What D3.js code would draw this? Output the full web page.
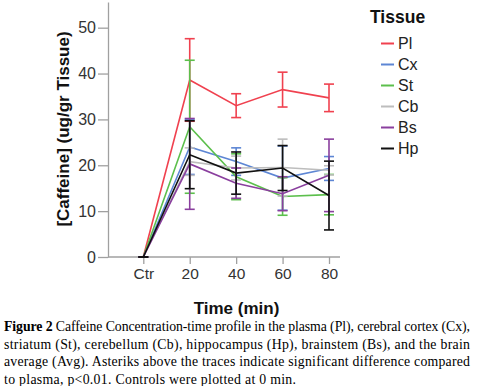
<!DOCTYPE html>
<html>
<head>
<meta charset="utf-8">
<script src="https://cdn.jsdelivr.net/npm/d3@7"></script>
<style>
  body { margin: 0; background: #fff; }
  svg { display: block; }
</style>
</head>
<body>
<div id="chart"></div>
<script>
const times = ["Ctr", "20", "40", "60", "80"];
const tissues = ["Pl", "Cx", "St", "Cb", "Bs", "Hp"];
const colors = ["#f0414f", "#5d86d4", "#5cbf4c", "#bdbdbd", "#8a3f9e", "#111111"];

// mean concentration per time point
const plMean = [0, 38.6, 33.0, 36.5, 34.7];
const cxMean = [0, 24.0, 20.8, 17.2, 19.3];
const stMean = [0, 28.4, 17.5, 13.2, 13.6];
const cbMean = [0, 20.8, 19.4, 19.5, 18.9];
const bsMean = [0, 20.3, 16.1, 13.8, 17.8];
const hpMean = [0, 22.3, 18.3, 19.4, 13.4];

// error bar half-widths
const plErr = [0, 9.0, 2.6, 3.8, 3.0];
const cxErr = [0, 6.0, 3.0, 7.0, 2.6];
const stErr = [0, 14.5, 5.0, 4.1, 4.4];
const cbErr = [0, 3.0, 2.6, 6.2, 1.0];
const bsErr = [0, 9.9, 3.3, 3.7, 7.9];
const hpErr = [0, 7.4, 4.6, 4.9, 7.5];

const yTicks = [0, 10, 20, 30, 40, 50];

const captionLines = [
    ["Figure 2", " Caffeine Concentration-time profile in the plasma (Pl), cerebral cortex (Cx),"],
    ["", "striatum (St), cerebellum (Cb), hippocampus (Hp), brainstem (Bs), and the brain"],
    ["", "average (Avg). Asteriks above the traces indicate significant difference compared"],
    ["", "to plasma, p<0.01.  Controls were plotted at 0 min."]
];

const means = [plMean, cxMean, stMean, cbMean, bsMean, hpMean];
const errs = [plErr, cxErr, stErr, cbErr, bsErr, hpErr];

const series = tissues.map((name, i) => ({
    name: name,
    color: colors[i],
    values: times.map((t, j) => ({ t: t, m: means[i][j], e: errs[i][j] }))
}));

const width = 478, height = 386;

const svg = d3.select("#chart").append("svg")
    .attr("width", width)
    .attr("height", height)
    .style("font-family", "'Liberation Sans', Arial, sans-serif");

const x = d3.scalePoint().domain(times).range([143.3, 329]);
const y = d3.scaleLinear().domain([0, 55.6]).range([257, 2]);

// y axis
const yAxis = svg.append("g")
    .attr("transform", "translate(108,0)")
    .call(d3.axisLeft(y).tickValues(yTicks).tickSize(10).tickSizeOuter(0).tickPadding(2));
yAxis.select(".domain").attr("stroke", "#a0a0a0").attr("stroke-width", 1.3);
yAxis.selectAll(".tick line").attr("stroke", "#a0a0a0").attr("stroke-width", 1.3);
yAxis.selectAll(".tick text").attr("fill", "#333").style("font-size", "16px");

// x axis
const xAxis = svg.append("g")
    .attr("transform", "translate(0,257)")
    .call(d3.axisBottom(x).tickSize(7).tickSizeOuter(0).tickPadding(4));
xAxis.select(".domain").attr("d", "M108,0H340").attr("stroke", "#a0a0a0").attr("stroke-width", 1.3);
xAxis.selectAll(".tick line").attr("stroke", "#a0a0a0").attr("stroke-width", 1.3);
xAxis.selectAll(".tick text").attr("fill", "#333").style("font-size", "15.5px");

// axis titles
svg.append("text")
    .attr("transform", "translate(68.5,129) rotate(-90)")
    .attr("text-anchor", "middle")
    .style("font-size", "17px")
    .style("font-weight", "bold")
    .attr("fill", "#111")
    .text("[Caffeine] (ug/gr Tissue)");

svg.append("text")
    .attr("x", 236.5)
    .attr("y", 314)
    .attr("text-anchor", "middle")
    .style("font-size", "17px")
    .style("font-weight", "bold")
    .attr("fill", "#111")
    .text("Time (min)");

// lines and error bars
const line = d3.line().x(d => x(d.t)).y(d => y(d.m));

series.forEach(s => {
    const g = svg.append("g");
    g.append("path")
        .datum(s.values)
        .attr("d", line)
        .attr("fill", "none")
        .attr("stroke", s.color)
        .attr("stroke-width", 1.6);

    const bars = g.selectAll(".err")
        .data(s.values)
        .enter()
        .append("g")
        .attr("stroke", s.color)
        .attr("stroke-width", 1.6);
    bars.append("line")
        .attr("x1", d => x(d.t)).attr("x2", d => x(d.t))
        .attr("y1", d => y(d.m - d.e)).attr("y2", d => y(d.m + d.e));
    bars.append("line")
        .attr("x1", d => x(d.t) - 5).attr("x2", d => x(d.t) + 5)
        .attr("y1", d => y(d.m + d.e)).attr("y2", d => y(d.m + d.e));
    bars.append("line")
        .attr("x1", d => x(d.t) - 5).attr("x2", d => x(d.t) + 5)
        .attr("y1", d => y(d.m - d.e)).attr("y2", d => y(d.m - d.e));
});

// legend
const legend = svg.append("g");
legend.append("text")
    .attr("x", 370)
    .attr("y", 23)
    .style("font-size", "17.5px")
    .style("font-weight", "bold")
    .attr("fill", "#111")
    .text("Tissue");

const items = legend.selectAll(".item")
    .data(series)
    .enter()
    .append("g")
    .attr("transform", (d, i) => `translate(0,${43.5 + i * 21})`);
items.append("line")
    .attr("x1", 381).attr("x2", 394)
    .attr("stroke", d => d.color)
    .attr("stroke-width", 2);
items.append("text")
    .attr("x", 398)
    .attr("y", 5.8)
    .style("font-size", "16px")
    .attr("fill", "#222")
    .text(d => d.name);

// caption
const caption = svg.append("g")
    .style("font-family", "'Liberation Serif', 'DejaVu Serif', serif")
    .style("font-size", "13.8px")
    .style("white-space", "pre")
    .attr("fill", "#000");
const captionWidths = [466, 466, 466, 292];
captionLines.forEach((ln, i) => {
    const t = caption.append("text")
        .attr("x", 4)
        .attr("y", 331 + i * 17.5)
        .attr("textLength", captionWidths[i])
        .attr("lengthAdjust", "spacing");
    if (ln[0]) t.append("tspan").style("font-weight", "bold").text(ln[0]);
    t.append("tspan").text(ln[1]);
});
</script>
</body>
</html>
